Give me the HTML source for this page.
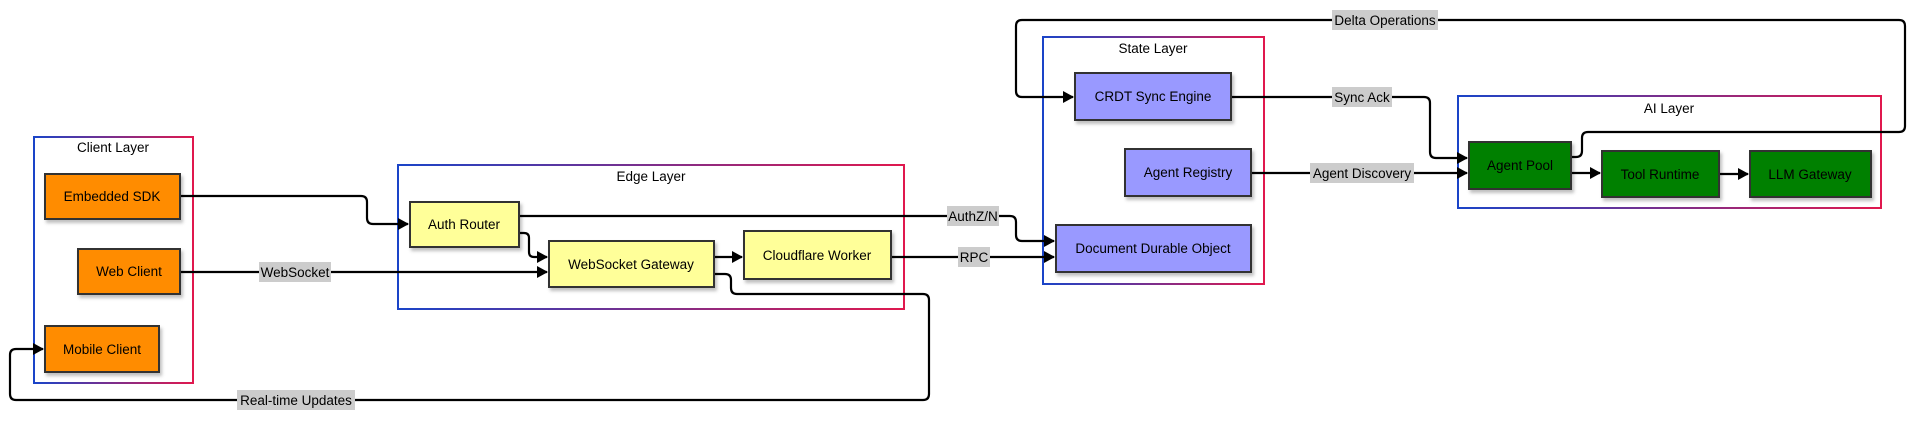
<!DOCTYPE html>
<html><head><meta charset="utf-8"><style>
html,body{margin:0;padding:0;background:#fff;}
svg{display:block;}
text{font-family:"Liberation Sans",Arial,sans-serif;font-size:13.5px;fill:#000;}
.n{stroke:#333;stroke-width:2;}
.e{fill:none;stroke:#000;stroke-width:2.2;}
.lb{fill:#cccccc;}
</style></head><body>
<svg width="1920" height="421" viewBox="0 0 1920 421" xmlns="http://www.w3.org/2000/svg">
<defs>
<linearGradient id="g" x1="0" y1="0" x2="1" y2="0"><stop offset="0" stop-color="#1a44c8"/><stop offset="1" stop-color="#e0184e"/></linearGradient>
<marker id="a" markerWidth="12" markerHeight="12" refX="10" refY="6" orient="auto" markerUnits="userSpaceOnUse"><path d="M0,0 L11,6 L0,12 z" fill="#000"/></marker>
<filter id="s" x="-10%" y="-10%" width="130%" height="140%"><feDropShadow dx="2" dy="3" stdDeviation="1.5" flood-color="#000" flood-opacity="0.25"/></filter>
</defs>
<rect x="34" y="137" width="159" height="246" fill="none" stroke="url(#g)" stroke-width="2"/>
<text x="113" y="152" text-anchor="middle">Client Layer</text>
<rect x="398" y="165" width="506" height="144" fill="none" stroke="url(#g)" stroke-width="2"/>
<text x="651" y="181" text-anchor="middle">Edge Layer</text>
<rect x="1043" y="37" width="221" height="247" fill="none" stroke="url(#g)" stroke-width="2"/>
<text x="1153" y="53" text-anchor="middle">State Layer</text>
<rect x="1458" y="96" width="423" height="112" fill="none" stroke="url(#g)" stroke-width="2"/>
<text x="1669" y="113" text-anchor="middle">AI Layer</text>
<path class="e" marker-end="url(#a)" d="M180,196 H361 Q367,196 367,202 V218 Q367,224 373,224 H408"/>
<path class="e" marker-end="url(#a)" d="M180,272 H547"/>
<path class="e" marker-end="url(#a)" d="M519,233 H524 Q529,233 529,238 V252 Q529,257 534,257 H547"/>
<path class="e" marker-end="url(#a)" d="M519,216 H1010 Q1016,216 1016,222 V235 Q1016,241 1022,241 H1054"/>
<path class="e" marker-end="url(#a)" d="M714,257 H742"/>
<path class="e" marker-end="url(#a)" d="M891,257 H1054"/>
<path class="e" marker-end="url(#a)" d="M714,274 H725 Q731,274 731,280 V288 Q731,294 737,294 H923 Q929,294 929,300 V394 Q929,400 923,400 H16 Q10,400 10,394 V355 Q10,349 16,349 H43"/>
<path class="e" marker-end="url(#a)" d="M1231,97 H1424 Q1430,97 1430,103 V152 Q1430,158 1436,158 H1467"/>
<path class="e" marker-end="url(#a)" d="M1251,173 H1467"/>
<path class="e" marker-end="url(#a)" d="M1571,157 H1576 Q1582,157 1582,151 V138 Q1582,132 1588,132 H1899 Q1905,132 1905,126 V26 Q1905,20 1899,20 H1022 Q1016,20 1016,26 V91 Q1016,97 1022,97 H1073"/>
<path class="e" marker-end="url(#a)" d="M1571,173 H1600"/>
<path class="e" marker-end="url(#a)" d="M1719,174 H1748"/>
<rect class="lb" x="259" y="262" width="72" height="20"/><text x="295" y="277" text-anchor="middle">WebSocket</text>
<rect class="lb" x="947" y="206" width="52" height="20"/><text x="973" y="221" text-anchor="middle">AuthZ/N</text>
<rect class="lb" x="958" y="247" width="32" height="20"/><text x="974" y="262" text-anchor="middle">RPC</text>
<rect class="lb" x="237" y="390" width="118" height="20"/><text x="296" y="405" text-anchor="middle">Real-time Updates</text>
<rect class="lb" x="1332" y="10" width="106" height="20"/><text x="1385" y="25" text-anchor="middle">Delta Operations</text>
<rect class="lb" x="1332" y="87" width="60" height="20"/><text x="1362" y="102" text-anchor="middle">Sync Ack</text>
<rect class="lb" x="1310" y="163" width="104" height="20"/><text x="1362" y="178" text-anchor="middle">Agent Discovery</text>
<g filter="url(#s)">
<rect class="n" x="45" y="174" width="135" height="45" fill="#ff8c00"/>
<rect class="n" x="78" y="249" width="102" height="45" fill="#ff8c00"/>
<rect class="n" x="45" y="326" width="114" height="46" fill="#ff8c00"/>
<rect class="n" x="410" y="202" width="109" height="45" fill="#ffff99"/>
<rect class="n" x="549" y="241" width="165" height="46" fill="#ffff99"/>
<rect class="n" x="744" y="231" width="147" height="48" fill="#ffff99"/>
<rect class="n" x="1075" y="73" width="156" height="47" fill="#9999ff"/>
<rect class="n" x="1125" y="149" width="126" height="47" fill="#9999ff"/>
<rect class="n" x="1056" y="225" width="195" height="47" fill="#9999ff"/>
<rect class="n" x="1469" y="142" width="102" height="47" fill="#008000"/>
<rect class="n" x="1602" y="151" width="117" height="46" fill="#008000"/>
<rect class="n" x="1750" y="151" width="121" height="46" fill="#008000"/>
</g>
<text x="112" y="201" text-anchor="middle">Embedded SDK</text>
<text x="129" y="276" text-anchor="middle">Web Client</text>
<text x="102" y="354" text-anchor="middle">Mobile Client</text>
<text x="464" y="229" text-anchor="middle">Auth Router</text>
<text x="631" y="269" text-anchor="middle">WebSocket Gateway</text>
<text x="817" y="260" text-anchor="middle">Cloudflare Worker</text>
<text x="1153" y="101" text-anchor="middle">CRDT Sync Engine</text>
<text x="1188" y="177" text-anchor="middle">Agent Registry</text>
<text x="1153" y="253" text-anchor="middle">Document Durable Object</text>
<text x="1520" y="170" text-anchor="middle">Agent Pool</text>
<text x="1660" y="179" text-anchor="middle">Tool Runtime</text>
<text x="1810" y="179" text-anchor="middle">LLM Gateway</text>
</svg>
</body></html>
